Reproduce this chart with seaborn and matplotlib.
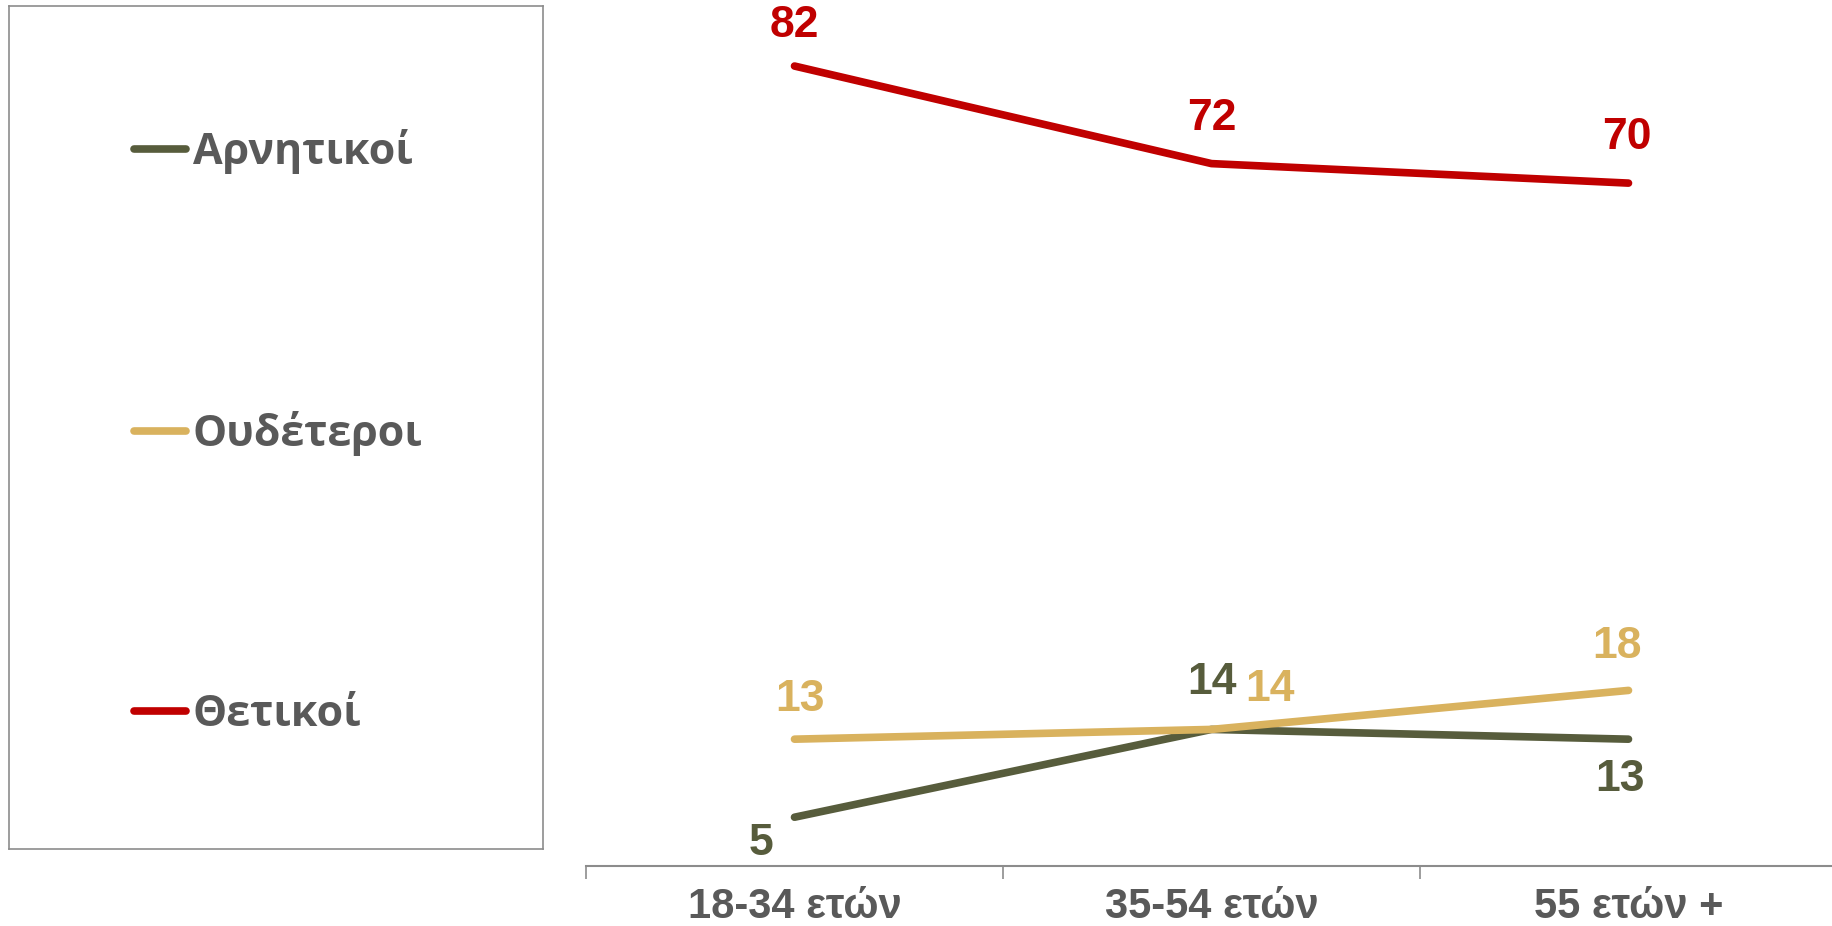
import pandas as pd
import matplotlib.pyplot as plt
import seaborn as sns
from matplotlib import font_manager

# Data
age_groups = ['18-34 ετών', '35-54 ετών', '55 ετών +']
series_names = ['Αρνητικοί', 'Ουδέτεροι', 'Θετικοί']
negative = [5, 14, 13]
neutral = [13, 14, 18]
positive = [82, 72, 70]

colors = {'Αρνητικοί': '#575C3C', 'Ουδέτεροι': '#D9B25E', 'Θετικοί': '#C00000'}
text_grey = '#595959'

# label offsets in pixels (dx, dy) relative to each point
label_offsets = {
    'Αρνητικοί': [(-33, -26), (0, 47), (-8, -40)],
    'Ουδέτεροι': [(5, 40), (59, 40), (-11, 44)],
    'Θετικοί': [(0, 41), (0, 45), (-2, 46)],
}

df = pd.DataFrame({
    'Ηλικία': age_groups * 3,
    'Σειρά': [s for s in series_names for _ in age_groups],
    'Τιμή': negative + neutral + positive,
})

sns.set_style('white')
installed = {f.name for f in font_manager.fontManager.ttflist}
narrow = 'Liberation Sans Narrow' if 'Liberation Sans Narrow' in installed else 'Liberation Sans'
plt.rcParams['font.family'] = [narrow, 'DejaVu Sans']

fig = plt.figure(figsize=(18.32, 9.26), dpi=100)
ax = fig.add_axes([586 / 1832, 60 / 926, 1251 / 1832, 878 / 926])

sns.lineplot(data=df, x='Ηλικία', y='Τιμή', hue='Σειρά', hue_order=series_names,
             palette=colors, linewidth=5.5, solid_capstyle='round', sort=False, ax=ax)
handles, labels = ax.get_legend_handles_labels()
ax.get_legend().remove()

# value labels
for name in series_names:
    vals = df[df['Σειρά'] == name]['Τιμή'].tolist()
    for i, v in enumerate(vals):
        dx, dy = label_offsets[name][i]
        ax.annotate(str(v), (i, v), xytext=(dx, dy), textcoords='offset pixels',
                    ha='center', va='center', fontsize=32, fontweight='bold',
                    color=colors[name])

ax.set_xlim(-0.5, 2.5)
ax.set_ylim(0, 90)
ax.set_xlabel('')
ax.set_ylabel('')
ax.set_yticks([])
for side in ['top', 'right', 'left']:
    ax.spines[side].set_visible(False)
ax.spines['bottom'].set_color('#8C8C8C')
ax.spines['bottom'].set_linewidth(1.5)
ax.set_xticks([-0.5, 0.5, 1.5, 2.5])
ax.set_xticklabels([''] * 4)
ax.tick_params(axis='x', which='major', direction='out', length=9, width=1.2, color='#8C8C8C', bottom=True)
ax.set_xticks([0, 1, 2], minor=True)
ax.set_xticklabels(age_groups, minor=True)
ax.tick_params(axis='x', which='minor', length=0, pad=15, labelsize=30, labelcolor=text_grey)
for t in ax.get_xticklabels(minor=True):
    t.set_fontweight('bold')
ax.patch.set_alpha(0)

# legend panel on the left
lax = fig.add_axes([9 / 1832, 77 / 926, 534 / 1832, 843 / 926])
lax.set_xticks([])
lax.set_yticks([])
for s in lax.spines.values():
    s.set_color('#8C8C8C')
    s.set_linewidth(1.2)
for h in handles:
    h.set_linewidth(5.5)
    h.set_solid_capstyle('round')
leg = lax.legend(handles, labels, loc='center left', bbox_to_anchor=(0.235, 0.494),
                 frameon=False, borderpad=0, borderaxespad=0, handlelength=1.2,
                 handletextpad=0.15, labelspacing=5.51,
                 prop={'family': 'Open Sans', 'weight': 'bold', 'size': 31})
for t in leg.get_texts():
    t.set_color(text_grey)

fig.savefig('out.png', dpi=100)
